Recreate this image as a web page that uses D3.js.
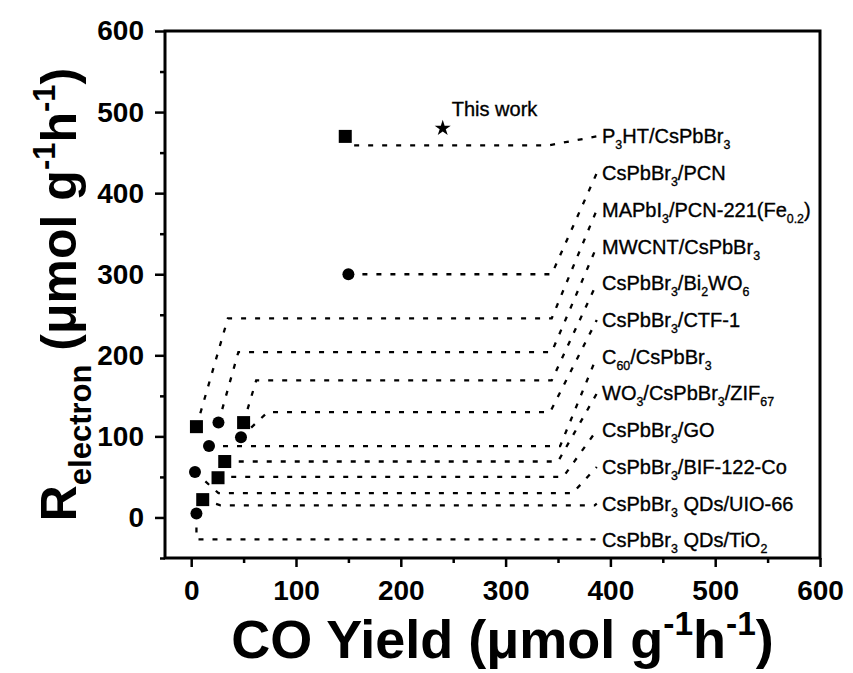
<!DOCTYPE html>
<html>
<head>
<meta charset="utf-8">
<script src="https://cdn.jsdelivr.net/npm/d3@7"></script>
<style>
  body { margin: 0; background: #fff; }
  svg { font-family: "Liberation Sans", Arial, sans-serif; }
</style>
</head>
<body>
<svg id="chart" width="853" height="673"></svg>
<script>
// values
var labels = ["P_{3}HT/CsPbBr_{3}", "CsPbBr_{3}/PCN", "MAPbI_{3}/PCN-221(Fe_{0.2})", "MWCNT/CsPbBr_{3}",
  "CsPbBr_{3}/Bi_{2}WO_{6}", "CsPbBr_{3}/CTF-1", "C_{60}/CsPbBr_{3}", "WO_{3}/CsPbBr_{3}/ZIF_{67}",
  "CsPbBr_{3}/GO", "CsPbBr_{3}/BIF-122-Co", "CsPbBr_{3} QDs/UIO-66", "CsPbBr_{3} QDs/TiO_{2}"];
var coYield   = [147, 150, 5, 26, 50, 47.5, 17, 32, 25.6, 3.6, 11, 5];
var rElectron = [470, 300, 112, 117, 117, 99, 88, 69, 49, 56, 22, 5];
var shapes    = ["square", "circle", "square", "circle", "square", "circle", "circle", "square", "square", "circle", "square", "circle"];
// leader lines: level of the horizontal run and where it starts / ends (data units)
var levels    = [459, 300, 245.6, 204, 169, 130, 88, 69, 50, 30, 15, -27];
var elbowIn   = [152, 150, 35, 45, 62, 73, 17, 32, 25.6, 26, 28, 5];
var elbowOut  = [341, 344, 344, 344, 344, 342.5, 352, 350, 355, 364, 385, 385];
var thisWork  = { x: 240, y: 480 };

var xTicks = [0, 100, 200, 300, 400, 500, 600];
var yTicks = [0, 100, 200, 300, 400, 500, 600];
var xMinor = [50, 150, 250, 350, 450, 550];
var yMinor = [-50, 50, 150, 250, 350, 450, 550];

var margin = { left: 165, right: 33, top: 31, bottom: 115 };
var W = 853, H = 673;

var svg = d3.select("#chart");

var x = d3.scaleLinear().domain([-25, 600]).range([margin.left, W - margin.right]);
var y = d3.scaleLinear().domain([-50, 600]).range([H - margin.bottom, margin.top]);

// write text with _{sub} and ^{sup} parts as tspans
function richText(sel, str, size) {
  var parts = str.split(/(_\{[^}]*\}|\^\{[^}]*\})/).filter(function (p) { return p != ""; });
  var shift = 0;
  parts.forEach(function (p) {
    var t, dy = 0;
    if (p[0] == "_") { t = p.slice(2, -1); dy = size * 0.3; }
    else if (p[0] == "^") { t = p.slice(2, -1); dy = -size * 0.42; }
    else { t = p; }
    sel.append("tspan")
      .attr("dy", (dy - shift))
      .style("font-size", (dy != 0 ? size * 0.62 : size) + "px")
      .text(t);
    shift = dy;
  });
}

// minor ticks
svg.append("g")
  .attr("transform", "translate(0," + y(-50) + ")")
  .call(d3.axisBottom(x).tickValues(xMinor).tickSize(5).tickFormat(""))
  .call(function (g) { g.select(".domain").remove(); g.selectAll("line").attr("stroke-width", 2.5); });
svg.append("g")
  .attr("transform", "translate(" + x(-25) + ",0)")
  .call(d3.axisLeft(y).tickValues(yMinor).tickSize(5).tickFormat(""))
  .call(function (g) { g.select(".domain").remove(); g.selectAll("line").attr("stroke-width", 2.5); });

// major ticks
var xAxis = svg.append("g")
  .attr("transform", "translate(0," + y(-50) + ")")
  .call(d3.axisBottom(x).tickValues(xTicks).tickSize(9).tickPadding(13));
var yAxis = svg.append("g")
  .attr("transform", "translate(" + x(-25) + ",0)")
  .call(d3.axisLeft(y).tickValues(yTicks).tickSize(10).tickPadding(11));

[xAxis, yAxis].forEach(function (g) {
  g.select(".domain").remove();
  g.selectAll("line").attr("stroke-width", 2.5);
  g.selectAll("text")
    .style("font-size", "28px")
    .style("font-weight", "bold")
    .attr("fill", "#000");
});

// frame
svg.append("rect")
  .attr("x", x(-25)).attr("y", y(600))
  .attr("width", x(600) - x(-25)).attr("height", y(-50) - y(600))
  .attr("fill", "none").attr("stroke", "#000").attr("stroke-width", 3);

// label positions on the right
var labelX = 392, lineEndX = 387;
function labelY(i) { return 470 - i * 45.3; }

var line = d3.line().x(function (d) { return x(d[0]); }).y(function (d) { return y(d[1]); });

var leaders = labels.map(function (l, i) {
  return [[coYield[i], rElectron[i]], [elbowIn[i], levels[i]], [elbowOut[i], levels[i]], [lineEndX, labelY(i)]];
});

svg.append("g").selectAll("path")
  .data(leaders)
  .enter().append("path")
  .attr("d", line)
  .attr("fill", "none")
  .attr("stroke", "#000")
  .attr("stroke-width", 2.3)
  .attr("stroke-dasharray", "5,9");

// markers
var marks = svg.append("g");
labels.forEach(function (l, i) {
  if (shapes[i] == "square") {
    marks.append("rect")
      .attr("x", x(coYield[i]) - 6.5).attr("y", y(rElectron[i]) - 6.5)
      .attr("width", 13).attr("height", 13)
      .attr("fill", "#000");
  } else {
    marks.append("circle")
      .attr("cx", x(coYield[i])).attr("cy", y(rElectron[i]))
      .attr("r", 6).attr("fill", "#000");
  }
});

marks.append("path")
  .attr("d", d3.symbol().type(d3.symbolStar).size(80))
  .attr("transform", "translate(" + x(thisWork.x) + "," + y(thisWork.y) + ")")
  .attr("fill", "#000");

svg.append("text")
  .attr("x", x(thisWork.x) + 9)
  .attr("y", y(thisWork.y) - 12)
  .style("font-size", "20px")
  .attr("stroke", "#000").attr("stroke-width", 0.35)
  .text("This work");

// material labels
labels.forEach(function (l, i) {
  var t = svg.append("text")
    .attr("x", x(labelX))
    .attr("y", y(labelY(i)) + 7)
    .attr("stroke", "#000").attr("stroke-width", 0.35);
  richText(t, l, 20);
});

// axis titles
var xt = svg.append("text")
  .attr("x", (x(-25) + x(600)) / 2 + 10)
  .attr("y", 658)
  .attr("text-anchor", "middle")
  .style("font-weight", "bold");
richText(xt, "CO Yield (\u03bcmol g^{-1}h^{-1})", 54);

var yt = svg.append("text")
  .attr("transform", "translate(76," + ((y(600) + y(-50)) / 2) + ") rotate(-90)")
  .attr("text-anchor", "middle")
  .style("font-weight", "bold");
richText(yt, "R_{electron} (\u03bcmol g^{-1}h^{-1})", 50);
</script>
</body>
</html>
